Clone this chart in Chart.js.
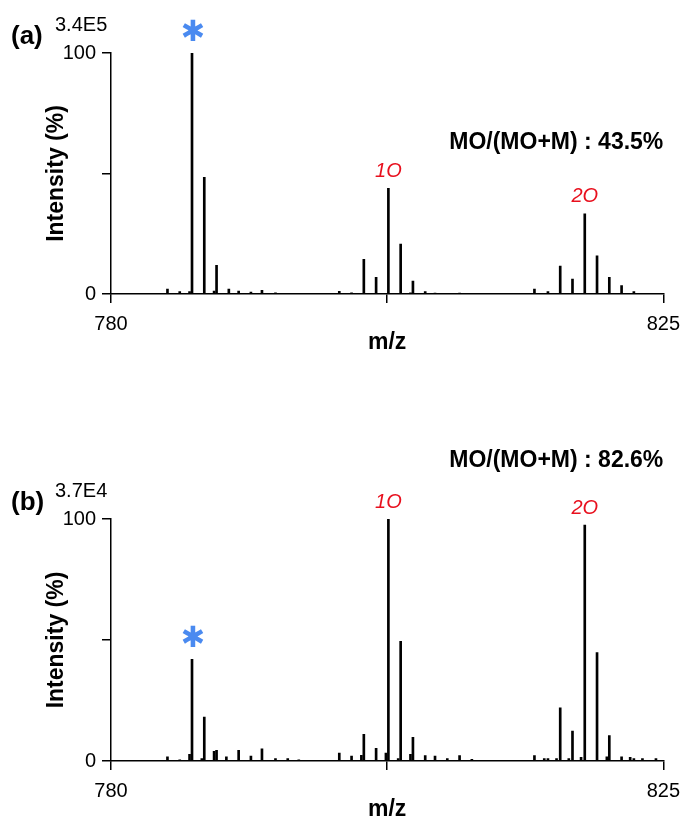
<!DOCTYPE html>
<html>
<head>
<meta charset="utf-8">
<script src="https://cdn.jsdelivr.net/npm/chart.js@4.4.1/dist/chart.umd.min.js"></script>
<style>
  body { margin: 0; background: #fff; }
  canvas { display: block; }
</style>
</head>
<body>
<canvas id="chartA" width="689" height="400"></canvas>
<canvas id="chartB" width="689" height="418"></canvas>
<script>
// panel (a)
const mzA = [784.6, 785.6, 786.4, 786.6, 787.6, 788.4, 788.6, 789.6, 790.4, 791.4, 792.3, 793.4, 794.4, 795.3,
    798.6, 799.6, 800.6, 801.6, 802.6, 803.6, 804.4, 804.6, 805.6, 806.4, 808.4,
    814.5, 815.6, 816.6, 817.6, 818.6, 819.6, 820.6, 821.6, 822.6, 823.7];
const intA = [2, 1, 1, 100, 48.4, 1.2, 11.9, 2, 1.2, 0.8, 1.5, 0.5, 0.3, 0.3,
    1.1, 0.5, 14.4, 6.9, 43.8, 20.7, 0.5, 5.4, 1, 0.4, 0.4,
    2, 1, 11.6, 6.2, 33.3, 15.8, 6.9, 3.5, 1, 0.3];

// panel (b)
const mzB = [784.6, 785.6, 786.4, 786.6, 787.4, 787.6, 788.4, 788.6, 789.4, 790.4, 791.4, 792.3, 793.4, 794.4, 795.3,
    798.6, 799.6, 800.4, 800.6, 801.6, 802.4, 802.6, 803.4, 803.6, 804.4, 804.6, 805.6, 806.4, 807.4, 808.4, 809.4, 810.3,
    814.5, 815.3, 815.6, 816.3, 816.6, 817.3, 817.6, 818.3, 818.6, 819.6, 820.4, 820.6, 821.6, 822.3, 822.6, 823.3, 824.4];
const intB = [1.7, 0.5, 2.8, 42, 1, 18.2, 4, 4.4, 1.7, 4.4, 2, 5, 1, 1, 0.5,
    3.3, 2, 2.3, 11, 5.2, 3.3, 100, 1, 49.4, 2.8, 9.8, 2.2, 2, 1, 2.2, 0.7, 0.3,
    2.2, 1, 1, 1, 22, 1, 12.4, 1.5, 97.5, 44.8, 1.7, 10.5, 1.7, 1.5, 1, 1, 1];

const xTicks = [780, 825];
const yTicks = [0, 100];
const peakMz = [786.6, 802.6, 818.6];
const peakText = ["\u2731", "1O", "2O"];
const panelLetters = ["(a)", "(b)"];
const maxIntensity = ["3.4E5", "3.7E4"];
const ratioText = ["MO/(MO+M) : 43.5%", "MO/(MO+M) : 82.6%"];

const FONT = "'Liberation Sans', Arial, sans-serif";

function makePanel(id, mz, vals, idx, top, bottomSpace) {
    const labels = {
        id: 'labels',
        afterDraw(chart) {
            const ctx = chart.ctx;
            const xs = chart.scales.x;
            const ys = chart.scales.y;
            const area = chart.chartArea;
            ctx.save();
            ctx.fillStyle = '#000';
            ctx.textBaseline = 'middle';

            ctx.font = "bold 26px " + FONT;
            ctx.textAlign = 'left';
            ctx.fillText(panelLetters[idx], 11, area.top - 16);

            ctx.font = "20px " + FONT;
            ctx.fillText(maxIntensity[idx], 55, area.top - 28);

            ctx.font = "bold 23px " + FONT;
            ctx.textAlign = 'right';
            ctx.fillText(ratioText[idx], area.right, idx === 0 ? 143 : 61);

            ctx.textAlign = 'center';
            ctx.fillText("m/z", (area.left + area.right) / 2, area.bottom + 49);

            ctx.save();
            ctx.translate(57, (area.top + area.bottom) / 2);
            ctx.rotate(-Math.PI / 2);
            ctx.fillText("Intensity (%)", 0, 0);
            ctx.restore();

            peakMz.forEach((m, i) => {
                const j = mz.indexOf(m);
                const px = xs.getPixelForValue(m);
                const py = ys.getPixelForValue(vals[j]);
                if (i === 0) {
                    ctx.fillStyle = '#4a8af0';
                    ctx.font = "29px 'DejaVu Sans'";
                    ctx.fillText(peakText[i], px + 1, py - 20);
                } else {
                    ctx.fillStyle = '#e8101e';
                    ctx.font = "italic 20px " + FONT;
                    ctx.fillText(peakText[i], px, py - 17);
                }
            });
            ctx.restore();
        }
    };

    return new Chart(document.getElementById(id), {
        type: 'bar',
        data: {
            datasets: [{
                data: mz.map((m, i) => ({ x: m, y: vals[i] })),
                backgroundColor: '#000',
                barThickness: 2
            }]
        },
        options: {
            responsive: false,
            animation: false,
            layout: { padding: { left: 0, right: 22, top: top, bottom: 0 } },
            plugins: { legend: { display: false }, tooltip: { enabled: false } },
            scales: {
                x: {
                    type: 'linear',
                    min: 780,
                    max: 825,
                    offset: false,
                    afterFit: s => { s.height = bottomSpace; },
                    border: { color: '#000', width: 1.5 },
                    grid: { drawOnChartArea: false, offset: false, color: '#000', lineWidth: 1.5, tickLength: 9 },
                    ticks: {
                        stepSize: 22.5,
                        autoSkip: false,
                        maxRotation: 0,
                        padding: 9,
                        color: '#000',
                        font: { family: FONT, size: 20 },
                        callback: v => xTicks.includes(v) ? v : ''
                    }
                },
                y: {
                    min: 0,
                    max: 100,
                    afterFit: s => { s.width = 111; },
                    border: { color: '#000', width: 1.5 },
                    grid: { drawOnChartArea: false, color: '#000', lineWidth: 1.5, tickLength: 9 },
                    ticks: {
                        stepSize: 50,
                        padding: 6,
                        color: '#000',
                        font: { family: FONT, size: 20 },
                        callback: v => yTicks.includes(v) ? v : ''
                    }
                }
            }
        },
        plugins: [labels]
    });
}

makePanel("chartA", mzA, intA, 0, 53, 106);
makePanel("chartB", mzB, intB, 1, 119, 57);
</script>
</body>
</html>
